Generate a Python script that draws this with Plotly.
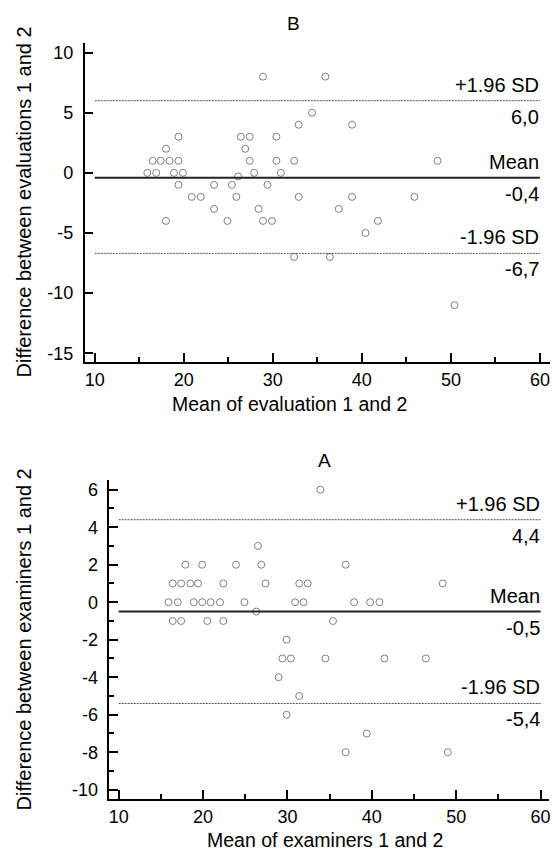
import plotly.graph_objects as go

# ---------------- Data ----------------
# Panel B: evaluation 1 vs 2
b_mean_x = [28.9, 35.9, 34.4, 32.9, 38.9, 19.4, 26.4, 27.4, 30.4, 18.0, 26.9,
            16.5, 17.4, 18.4, 19.4, 27.4, 30.4, 32.4, 48.5,
            15.9, 16.9, 18.9, 19.9, 27.9, 30.9, 26.1,
            19.4, 23.4, 25.4, 29.4,
            20.9, 21.9, 25.9, 32.9, 38.9, 45.9,
            23.4, 28.4, 37.4,
            18.0, 24.9, 28.9, 29.9, 41.8,
            40.4, 32.4, 36.4, 50.4]
b_diff = [8, 8, 5, 4, 4, 3, 3, 3, 3, 2, 2,
          1, 1, 1, 1, 1, 1, 1, 1,
          0, 0, 0, 0, 0, 0, -0.3,
          -1, -1, -1, -1,
          -2, -2, -2, -2, -2, -2,
          -3, -3, -3,
          -4, -4, -4, -4, -4,
          -5, -7, -7, -11]
b_limits = {"upper": 6.0, "mean": -0.4, "lower": -6.7}
b_limit_text = {"upper": "6,0", "mean": "-0,4", "lower": "-6,7"}

# Panel A: examiners 1 vs 2
a_mean_x = [33.9, 26.5,
            17.9, 19.9, 23.9, 26.9, 36.9,
            16.4, 17.4, 18.5, 19.4, 22.4, 27.4, 31.4, 32.4, 48.4,
            15.9, 17.0, 18.9, 19.9, 20.9, 22.0, 24.9, 30.9, 31.9, 37.9, 39.8, 40.9,
            26.3,
            16.4, 17.4, 20.5, 22.4, 35.4,
            29.9,
            29.4, 30.4, 34.5, 41.5, 46.4,
            28.95, 31.4, 29.9, 39.4, 36.9, 49.0]
a_diff = [6, 3,
          2, 2, 2, 2, 2,
          1, 1, 1, 1, 1, 1, 1, 1, 1,
          0, 0, 0, 0, 0, 0, 0, 0, 0, 0, 0, 0,
          -0.5,
          -1, -1, -1, -1, -1,
          -2,
          -3, -3, -3, -3, -3,
          -4, -5, -6, -7, -8, -8]
a_limits = {"upper": 4.4, "mean": -0.5, "lower": -5.4}
a_limit_text = {"upper": "4,4", "mean": "-0,5", "lower": "-5,4"}

limit_names = {"upper": "+1.96 SD", "mean": "Mean", "lower": "-1.96 SD"}
line_x = [10, 60]

x_ticks = [10, 20, 30, 40, 50, 60]
x_ticktext = ["10", "20", "30", "40", "50", "60"]
b_y_ticks = [-15, -10, -5, 0, 5, 10]
b_y_ticktext = ["-15", "-10", "-5", "0", "5", "10"]
a_y_ticks = [-10, -8, -6, -4, -2, 0, 2, 4, 6]
a_y_ticktext = ["-10", "-8", "-6", "-4", "-2", "0", "2", "4", "6"]

# ---------------- Figure ----------------
W, H = 556, 856
FONT = "Liberation Sans, Arial, Helvetica, sans-serif"

fig = go.Figure()

marker = dict(symbol="circle-open", size=7, color="#808080", line=dict(width=1, color="#808080"))

fig.add_trace(go.Scatter(x=b_mean_x, y=b_diff, mode="markers", marker=marker,
                         xaxis="x", yaxis="y", showlegend=False, cliponaxis=False))
fig.add_trace(go.Scatter(x=a_mean_x, y=a_diff, mode="markers", marker=marker,
                         xaxis="x2", yaxis="y2", showlegend=False, cliponaxis=False))

def add_limits(limits, texts, xa, ya):
    for key in ["upper", "mean", "lower"]:
        v = limits[key]
        if key == "mean":
            ln = dict(color="#222222", width=2)
        else:
            ln = dict(color="#555555", width=1, dash="2px,1px")
        fig.add_trace(go.Scatter(x=line_x, y=[v, v], mode="lines", line=ln,
                                 xaxis=xa, yaxis=ya, showlegend=False, hoverinfo="skip"))
        fig.add_annotation(x=line_x[1], y=v, xref=xa, yref=ya, text=limit_names[key],
                           showarrow=False, xanchor="right", yanchor="bottom",
                           xshift=1, yshift=3, font=dict(size=20, color="black", family=FONT))
        fig.add_annotation(x=line_x[1], y=v, xref=xa, yref=ya, text=texts[key],
                           showarrow=False, xanchor="right", yanchor="top",
                           xshift=1, yshift=-3, font=dict(size=20, color="black", family=FONT))

add_limits(b_limits, b_limit_text, "x", "y")
add_limits(a_limits, a_limit_text, "x2", "y2")

def px_x(p):
    return p / W

def px_y(p):
    return 1 - p / H

axis_common = dict(showline=True, linecolor="black", linewidth=1.5, ticks="inside",
                   ticklen=9, tickwidth=1.5, tickcolor="black", showgrid=False,
                   zeroline=False, tickfont=dict(size=18, color="black", family=FONT),
                   fixedrange=True)

fig.update_layout(
    width=W, height=H, margin=dict(l=0, r=0, t=0, b=0),
    paper_bgcolor="white", plot_bgcolor="white",
    font=dict(family=FONT, color="black"),
    xaxis=dict(domain=[px_x(84), px_x(551.7)], range=[8.85, 61.1], anchor="y",
               tickvals=x_ticks, ticktext=x_ticktext, ticklabelstandoff=1,
               minor=dict(tickvals=[15, 25, 35, 45, 55], ticks="inside", ticklen=5,
                          tickwidth=1.5, tickcolor="black"),
               **axis_common),
    yaxis=dict(domain=[px_y(362.7), px_y(43.3)], range=[-15.72, 10.78], anchor="x",
               tickvals=b_y_ticks, ticktext=b_y_ticktext, ticklabelstandoff=6,
               **axis_common),
    xaxis2=dict(domain=[px_x(109), px_x(551)], range=[8.9, 61.0], anchor="y2",
                tickvals=x_ticks, ticktext=x_ticktext, ticklabelstandoff=1,
                minor=dict(tickvals=[15, 25, 35, 45, 55], ticks="inside", ticklen=5,
                           tickwidth=1.5, tickcolor="black"),
                **axis_common),
    yaxis2=dict(domain=[px_y(801), px_y(480.7)], range=[-10.5, 6.54], anchor="x2",
                tickvals=a_y_ticks, ticktext=a_y_ticktext, ticklabelstandoff=6,
                minor=dict(tickvals=[-9, -7, -5, -3, -1, 1, 3, 5], ticks="inside", ticklen=5,
                           tickwidth=1.5, tickcolor="black"),
                **axis_common),
)

def text_ann(x, y, text, size, angle=0):
    fig.add_annotation(x=px_x(x), y=px_y(y), xref="paper", yref="paper", text=text,
                       showarrow=False, xanchor="center", yanchor="middle",
                       textangle=angle, font=dict(size=size, color="black", family=FONT))

text_ann(294, 24, "B", 19)
text_ann(325, 462, "A", 19)
text_ann(290, 405, "Mean of evaluation 1 and 2", 19.5)
text_ann(326, 842, "Mean of examiners 1 and 2", 19.5)
text_ann(23, 202, "Difference between evaluations 1 and 2", 20, -90)
text_ann(23, 641, "Difference between examiners 1 and 2", 20, -90)

fig.write_html("out.html", config={"displayModeBar": False},
               post_script="document.body.style.margin='0';document.documentElement.style.margin='0';")
